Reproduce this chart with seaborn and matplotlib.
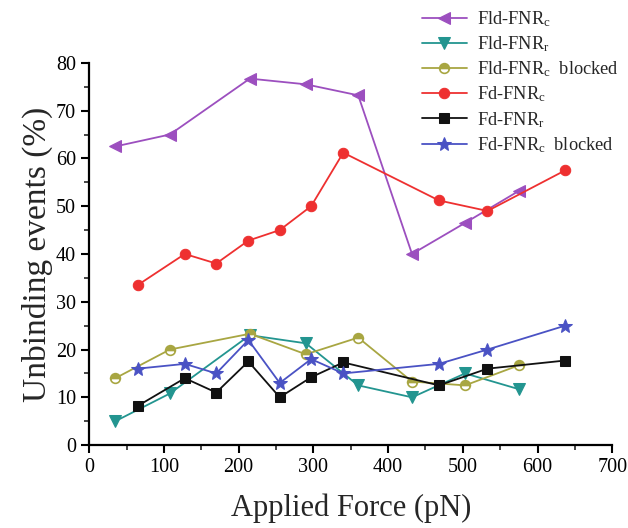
import matplotlib
matplotlib.use("Agg")
import matplotlib.pyplot as plt
import seaborn as sns
import pandas as pd
from matplotlib.ticker import MultipleLocator

# ---- data ----
x_fld = [35, 108, 215, 290, 360, 432, 503, 575]
fld_fnrc = [62.5, 65.0, 76.7, 75.5, 73.2, 40.0, 46.5, 53.2]
fld_fnrr = [5.0, 10.8, 23.0, 21.3, 12.5, 10.0, 15.0, 11.7]
fld_fnrc_blocked = [14.0, 20.0, 23.3, 19.0, 22.5, 13.3, 12.5, 16.7]

x_fd = [65, 128, 170, 213, 255, 297, 340, 468, 533, 637]
fd_fnrc = [33.5, 40.0, 38.0, 42.8, 45.0, 50.0, 61.2, 51.2, 49.0, 57.5]
fd_fnrr = [8.2, 14.0, 11.0, 17.5, 10.0, 14.2, 17.3, 12.5, 16.0, 17.7]
fd_fnrc_blocked = [16.0, 17.0, 15.0, 22.0, 13.0, 18.0, 15.0, 17.0, 20.0, 25.0]

labels = ["Fld-FNR$_\\mathrm{c}$", "Fld-FNR$_\\mathrm{r}$", "Fld-FNR$_\\mathrm{c}$  blocked",
          "Fd-FNR$_\\mathrm{c}$", "Fd-FNR$_\\mathrm{r}$", "Fd-FNR$_\\mathrm{c}$  blocked"]

sns.set_theme(style="ticks")
plt.rcParams['font.family'] = ['Liberation Serif', 'DejaVu Serif']
plt.rcParams['mathtext.fontset'] = 'custom'
plt.rcParams['mathtext.rm'] = 'Liberation Serif'
plt.rcParams['mathtext.it'] = 'Liberation Serif:italic'

fig = plt.figure(figsize=(6.28, 5.28), dpi=100)
ax = fig.add_axes([0.142, 0.157, 0.833, 0.724])

series = [
    (x_fld, fld_fnrc, labels[0], "#9c4fbf", "<", 8.5, {}),
    (x_fld, fld_fnrr, labels[1], "#239590", "v", 8, {}),
    (x_fld, fld_fnrc_blocked, labels[2], "#a8a642", "o", 7,
     dict(fillstyle="top", markerfacecoloralt="white", markeredgecolor="#a8a642", markeredgewidth=1.2)),
    (x_fd, fd_fnrc, labels[3], "#ee3030", "o", 7.5, {}),
    (x_fd, fd_fnrr, labels[4], "#111111", "s", 6.5, {}),
    (x_fd, fd_fnrc_blocked, labels[5], "#4a52c4", "*", 10, {}),
]

for xs, ys, lab, col, mk, ms, extra in series:
    df = pd.DataFrame({"x": xs, "y": ys})
    kw = dict(marker=mk, markersize=ms, markeredgecolor=col, markerfacecolor=col)
    kw.update(extra)
    sns.lineplot(data=df, x="x", y="y", ax=ax, color=col, linewidth=1.3,
                 label=lab, sort=False, **kw)

ax.set_xlim(0, 700)
ax.set_ylim(0, 80)
ax.xaxis.set_major_locator(MultipleLocator(100))
ax.xaxis.set_minor_locator(MultipleLocator(50))
ax.yaxis.set_major_locator(MultipleLocator(10))
ax.yaxis.set_minor_locator(MultipleLocator(5))
ax.tick_params(which="major", direction="out", length=6, width=1.5, labelsize=14.5, colors="black")
ax.tick_params(which="minor", direction="out", length=3.5, width=1.2)
for s in ["top", "right"]:
    ax.spines[s].set_visible(False)
for s in ["left", "bottom"]:
    ax.spines[s].set_linewidth(1.6)
    ax.spines[s].set_color("black")

ax.set_xlabel("Applied Force (pN)", fontsize=22, labelpad=12)
ax.set_ylabel("Unbinding events (%)", fontsize=24, labelpad=2)

leg = ax.legend(loc="upper left", bbox_to_anchor=(0.622, 1.16), frameon=False,
                fontsize=13.2, handlelength=2.45, labelspacing=0.3, borderaxespad=0,
                handletextpad=0.55)

fig.savefig("out.png", dpi=100)
